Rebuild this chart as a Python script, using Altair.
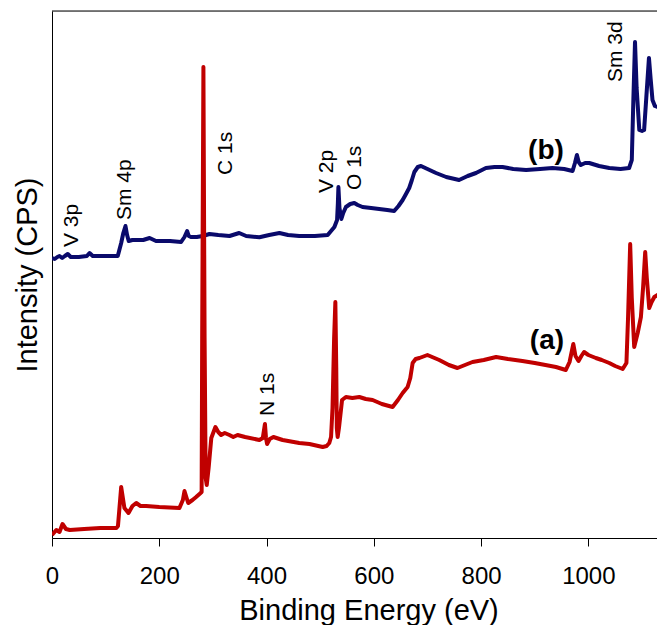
import altair as alt
import pandas as pd

# Spectrum (a) - red
energy_a = [0, 8, 14, 19.6, 26, 33, 60, 90, 120, 123, 129, 135, 142.6, 150, 157, 165, 175.5, 200,
            237.6, 244, 247, 251, 254, 262, 268.7, 275, 279, 280, 282.3, 284.5, 286.5, 288.5, 292,
            297, 304.7, 310, 315.3, 322, 330.8, 338, 346, 360, 386.7, 393, 397, 399, 401, 406,
            412.8, 430, 461, 480, 504.7, 512, 517, 520.3, 523, 526, 528.3, 530, 531, 532.6, 535,
            540.8, 548, 560, 573, 585, 597.8, 615, 635, 645, 653.8, 663, 668, 672.4, 678, 685, 700,
            722, 740, 756, 770, 784, 805, 828, 850, 877, 900, 920, 939.6, 958, 965, 972, 976,
            981.7, 987, 992, 1000, 1014, 1025, 1039, 1050, 1064, 1071, 1074, 1078, 1081, 1085.5,
            1092, 1098, 1102, 1106, 1109, 1113.5, 1118, 1123, 1129, 1135, 1141]
intensity_a = [3, 8, 6, 14, 9, 8, 9, 10, 10, 12, 51, 30, 25, 32, 35, 32, 32, 31,
               30, 38, 47, 40, 35, 38, 41, 44, 46, 200, 471, 200, 60, 53, 70,
               100, 111, 106, 103, 105, 103, 101, 103, 101, 98, 100, 114, 100, 94, 99,
               101, 98, 95, 94, 91, 92, 95, 101, 130, 200, 236, 170, 110, 101, 110,
               138, 141, 140, 141, 139, 138, 134, 131, 138, 145, 151, 160, 175, 179, 180, 183,
               178, 173, 170, 173, 176, 178, 181, 179, 177, 175, 173, 171, 168, 176, 194, 182,
               177, 182, 186, 183, 180, 178, 175, 172, 169, 175, 220, 294, 240, 191,
               205, 221, 250, 286, 260, 230, 236, 241, 243, 238, 240]

# Spectrum (b) - navy
energy_b = [0, 5, 10, 14, 19, 24, 29.4, 35, 50, 65, 70, 76, 100, 122.6, 129, 133, 137, 140, 143,
            150, 157, 170, 182, 194, 220, 240.7, 247, 252, 255, 259, 270, 281, 293.5, 310, 331,
            349, 362, 386.7, 405, 424, 440, 461, 490, 514, 526.5, 531.5, 533, 534, 536, 539.5,
            543, 548, 556, 563.7, 570, 579, 595, 610, 625, 638, 646, 653.8, 660, 666, 671, 675.6,
            682, 688, 700, 716, 735, 759, 775, 790.5, 809, 825, 840, 860, 884, 910, 933, 955,
            970.6, 975, 978.7, 982, 986, 994, 1001.7, 1020, 1039, 1060, 1076, 1081, 1084, 1087,
            1090, 1095, 1100, 1104, 1108, 1113, 1116, 1119.6, 1124, 1129, 1135, 1141]
intensity_b = [280, 279, 281, 282, 280, 282, 284, 281, 281, 282, 285, 282, 282, 282, 295, 305, 312, 303, 297,
               298, 298, 298, 300, 297, 297, 296, 301, 307, 302, 301, 301, 302, 304, 303, 302,
               305, 302, 300.7, 303, 305, 303, 302, 302, 303, 311, 318, 335, 351, 330, 319,
               325, 331, 334, 335, 333, 331, 330, 329, 328, 327, 332, 338, 344, 350, 358, 366,
               371, 372, 369, 365, 361, 358, 362, 365, 370, 371, 371, 369, 368, 369, 370, 369,
               367, 375, 383, 376, 373, 375, 375, 372, 370, 369, 370, 378, 440, 496,
               450, 408, 407, 408, 440, 480, 460, 438, 432, 431, 429, 428]

# Peak annotations
peak_labels = ["V 3p", "Sm 4p", "C 1s", "V 2p", "O 1s", "N 1s", "Sm 3d"]
peak_x = [49.4, 148.2, 335.6, 523, 576, 414.8, 1063.6]
peak_y = [291, 318, 363, 345, 348, 122, 456]

# Series labels
series_labels = ["(a)", "(b)"]
series_x = [922.8, 921]
series_y = [197, 387]

FONT = "Liberation Sans"

df_a = pd.DataFrame({"energy": energy_a, "intensity": intensity_a})
df_b = pd.DataFrame({"energy": energy_b, "intensity": intensity_b})
df_peaks = pd.DataFrame({"label": peak_labels, "energy": peak_x, "intensity": peak_y})
df_series = pd.DataFrame({"label": series_labels, "energy": series_x, "intensity": series_y})

PLOT_W = 605
X_MAX = 1128

xscale = alt.Scale(domain=[0, X_MAX], nice=False, zero=False)
yscale = alt.Scale(domain=[0, 527], nice=False, zero=False)

xaxis = alt.Axis(
    title="Binding Energy (eV)", values=[0, 200, 400, 600, 800, 1000], format="d", grid=False,
    tickSize=8, tickColor="black", domainColor="black", labelColor="black", labelFlush=False,
    labelFontSize=24, labelFont=FONT, labelPadding=37, labelBaseline="alphabetic",
    titleFontSize=29, titleFont=FONT, titleFontWeight="normal", titleColor="black",
    titleX=316.5, titleY=81, titleBaseline="alphabetic", titleAlign="center",
)
yaxis = alt.Axis(
    title="Intensity (CPS)", labels=False, ticks=False, grid=False, domainColor="black",
    titleFontSize=29, titleFont=FONT, titleFontWeight="normal", titleColor="black",
    titleX=-16, titleY=263.5, titleBaseline="alphabetic", titleAlign="center", titleAngle=270,
)

x_enc = alt.X("energy:Q", scale=xscale, axis=xaxis)
y_enc = alt.Y("intensity:Q", scale=yscale, axis=yaxis)

line_b = alt.Chart(df_b).mark_line(color="#0A0A6B", strokeWidth=4, clip=True,
                                   strokeJoin="round").encode(x=x_enc, y=y_enc)
line_a = alt.Chart(df_a).mark_line(color="#C00000", strokeWidth=4, clip=True,
                                   strokeJoin="round").encode(x="energy:Q", y="intensity:Q")

peaks = alt.Chart(df_peaks).mark_text(
    angle=270, align="left", baseline="alphabetic", font=FONT, fontSize=21, color="black"
).encode(x="energy:Q", y="intensity:Q", text="label:N")

series = alt.Chart(df_series).mark_text(
    align="center", baseline="middle", font=FONT, fontSize=28, fontWeight="bold", color="black"
).encode(x="energy:Q", y="intensity:Q", text="label:N")

top_rule = alt.Chart(pd.DataFrame({"k": [0]})).mark_rule(color="black", strokeWidth=1).encode(
    x=alt.value(0), x2=alt.value(PLOT_W), y=alt.value(0)
)

chart = alt.layer(line_b, line_a, peaks, series, top_rule).properties(
    width=PLOT_W, height=527,
    autosize=alt.AutoSizeParams(type="none"),
    padding={"left": 44, "top": 3, "right": 0, "bottom": 87},
).configure_view(stroke=None).configure(background="white")

chart.save("out.html", embed_options={"renderer": "svg", "actions": False})
